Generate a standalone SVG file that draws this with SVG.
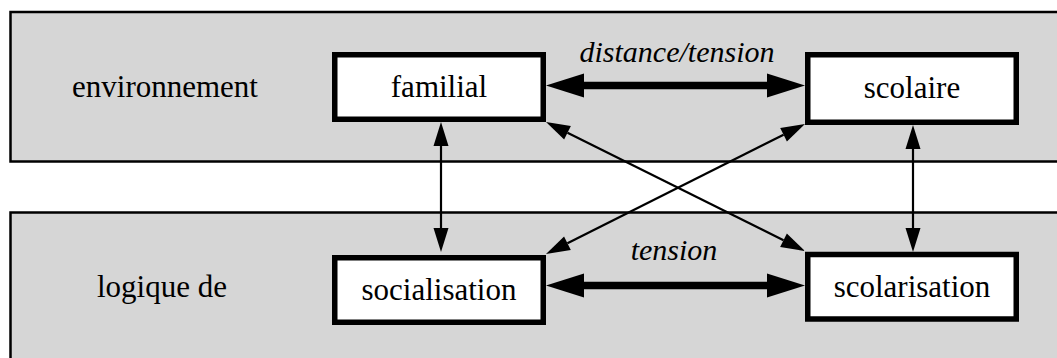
<svg xmlns="http://www.w3.org/2000/svg" width="1057" height="358" viewBox="0 0 1057 358">
  <style>
    .band { fill: #d6d6d6; stroke: #000; stroke-width: 2.5; }
    .box { fill: #fff; stroke: #000; stroke-width: 5.5; }
    .lbl { font-family: 'Liberation Serif', 'Times New Roman', serif; font-size: 31px; fill: #000; }
    .it { font-style: italic; font-size: 30px; }
    .thick { stroke: #000; stroke-width: 7.6; fill: none; marker-start: url(#bigHead); marker-end: url(#bigHead); }
    .thin { stroke: #000; stroke-width: 2.2; fill: none; marker-start: url(#smallHead); marker-end: url(#smallHead); }
  </style>
  <defs>
    <marker id="bigHead" markerUnits="userSpaceOnUse" viewBox="0 -12 38 24" refX="0" refY="0" markerWidth="38" markerHeight="24" orient="auto-start-reverse" overflow="visible">
      <path d="M0,-12 L38,0 L0,12 z" fill="#000"/>
    </marker>
    <marker id="smallHead" markerUnits="userSpaceOnUse" viewBox="0 -7.5 24 15" refX="0" refY="0" markerWidth="24" markerHeight="15" orient="auto-start-reverse" overflow="visible">
      <path d="M0,-7.5 L24,0 L0,7.5 z" fill="#000"/>
    </marker>
  </defs>

  <!-- background bands -->
  <g id="band-environnement">
    <rect class="band" x="10.5" y="12" width="1100" height="149.5"/>
    <text class="lbl" x="165" y="97" text-anchor="middle">environnement</text>
  </g>
  <g id="band-logique">
    <rect class="band" x="10.5" y="212.5" width="1100" height="200"/>
    <text class="lbl" x="162" y="297" text-anchor="middle">logique de</text>
  </g>

  <!-- nodes -->
  <g id="node-familial">
    <rect class="box" x="334.75" y="54.75" width="208.5" height="64.5"/>
    <text class="lbl" x="439" y="97" text-anchor="middle">familial</text>
  </g>
  <g id="node-scolaire">
    <rect class="box" x="807.75" y="54.75" width="208.5" height="67.5"/>
    <text class="lbl" x="912" y="98" text-anchor="middle">scolaire</text>
  </g>
  <g id="node-socialisation">
    <rect class="box" x="334.75" y="257.75" width="208.5" height="64.5"/>
    <text class="lbl" x="439" y="300" text-anchor="middle">socialisation</text>
  </g>
  <g id="node-scolarisation">
    <rect class="box" x="807.75" y="254.5" width="208.5" height="64.5"/>
    <text class="lbl" x="912" y="297" text-anchor="middle">scolarisation</text>
  </g>

  <!-- connectors -->
  <g id="connectors">
    <line class="thick" x1="584" y1="85.5" x2="767" y2="85.5"/>
    <text class="lbl it" x="677" y="62" text-anchor="middle">distance/tension</text>
    <line class="thick" x1="584" y1="285.5" x2="767" y2="285.5"/>
    <text class="lbl it" x="674" y="260" text-anchor="middle">tension</text>
    <line class="thin" x1="441" y1="146" x2="441" y2="228"/>
    <line class="thin" x1="913" y1="149" x2="913" y2="228"/>
    <line class="thin" x1="567.5" y1="132.7" x2="783.5" y2="240.3"/>
    <line class="thin" x1="783.55" y1="134.77" x2="567.45" y2="243.23"/>
  </g>
</svg>
